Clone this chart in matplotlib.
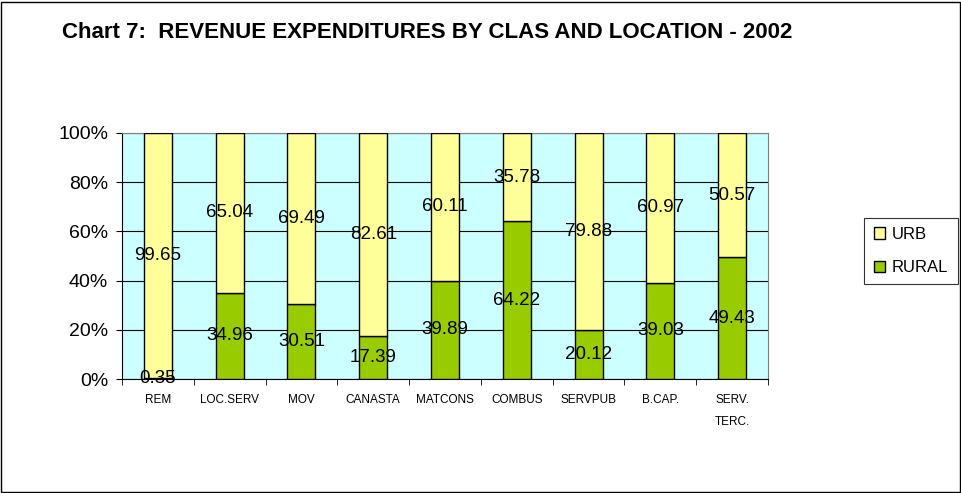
import matplotlib.pyplot as plt
import numpy as np
from matplotlib.patches import Rectangle
from matplotlib.ticker import FixedLocator, PercentFormatter

plt.rcParams['font.family'] = ['Liberation Sans', 'DejaVu Sans']

categories = ["REM", "LOC.SERV", "MOV", "CANASTA", "MATCONS", "COMBUS",
              "SERVPUB", "B.CAP.", "SERV.\nTERC."]
rural = [0.35, 34.96, 30.51, 17.39, 39.89, 64.22, 20.12, 39.03, 49.43]
urb = [99.65, 65.04, 69.49, 82.61, 60.11, 35.78, 79.88, 60.97, 50.57]

W, H = 962, 493
fig = plt.figure(figsize=(W / 100, H / 100), dpi=100)
fig.patches.append(Rectangle((1 / W, 1 / H), 1 - 3 / W, 1 - 3 / H,
                             transform=fig.transFigure, fill=False,
                             edgecolor="black", linewidth=1))

ax = fig.add_axes([122 / W, 1 - 379 / H, (768 - 122) / W, (379 - 133) / H])
ax.set_facecolor("#CCFFFF")

x = np.arange(len(categories))
bars_r = ax.bar(x, rural, width=0.39, color="#99CC00", edgecolor="black",
                linewidth=1, label="RURAL", zorder=3)
bars_u = ax.bar(x, urb, width=0.39, bottom=rural, color="#FFFF99",
                edgecolor="black", linewidth=1, label="URB", zorder=3)

for i in range(len(categories)):
    ax.text(x[i], rural[i] / 2, f"{rural[i]:.2f}", ha="center", va="center",
            fontsize=13.5, zorder=4)
    ax.text(x[i], rural[i] + urb[i] / 2, f"{urb[i]:.2f}", ha="center",
            va="center", fontsize=13.5, zorder=4)

ax.set_xlim(-0.5, len(categories) - 0.5)
ax.set_ylim(0, 100)
ax.set_yticks(np.arange(0, 101, 20))
ax.yaxis.set_major_formatter(PercentFormatter(decimals=0))
ax.yaxis.grid(True, color="black", linewidth=0.8, zorder=1)
ax.set_axisbelow(True)

ax.set_xticks(x)
ax.set_xticklabels(categories, fontsize=8.5, linespacing=2.1)
ax.tick_params(axis="x", length=0, pad=11)
ax.xaxis.set_minor_locator(FixedLocator(np.arange(-0.5, len(categories), 1)))
ax.tick_params(axis="x", which="minor", length=4, direction="out")
ax.tick_params(axis="y", labelsize=14, length=4, direction="out", pad=6)

for side in ["top", "right"]:
    ax.spines[side].set_color("#808080")
ax.spines["left"].set_color("black")
ax.spines["bottom"].set_color("black")

fig.text(62 / W, 1 - 33 / H,
         "Chart 7:  REVENUE EXPENDITURES BY CLAS AND LOCATION - 2002",
         fontsize=16, fontweight="bold", va="center", ha="left")

handles = [bars_u, bars_r]
leg = fig.legend(handles, ["URB", "RURAL"], loc="center",
                 bbox_to_anchor=(911 / W, 1 - 251 / H), fontsize=12,
                 frameon=True, fancybox=False, edgecolor="black",
                 handlelength=0.7, handleheight=0.7, handletextpad=0.4,
                 labelspacing=1.1, borderpad=0.55)
leg.get_frame().set_linewidth(0.8)

fig.savefig("out.png", dpi=100)
